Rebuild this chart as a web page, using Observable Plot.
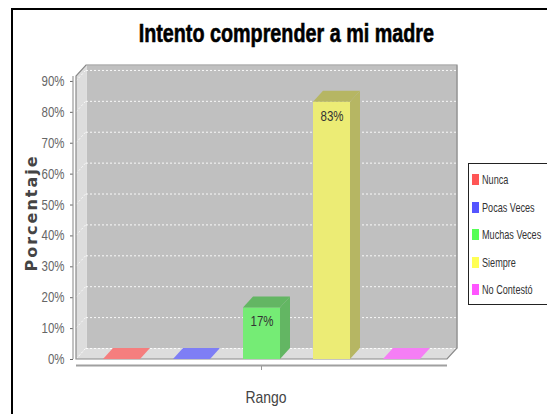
<!DOCTYPE html>
<html><head><meta charset="utf-8">
<script src="https://cdn.jsdelivr.net/npm/d3@7"></script>
<script src="https://cdn.jsdelivr.net/npm/@observablehq/plot@0.6"></script>
<style>
html,body{margin:0;padding:0;background:#fff;}
body{width:547px;height:414px;overflow:hidden;position:relative;}
#border{position:absolute;left:11px;top:8px;width:700px;height:600px;border-left:2px solid #000;border-top:2px solid #000;box-sizing:border-box;}
#chart{position:absolute;left:0;top:0;}
#title{position:absolute;left:0;top:20px;width:572px;text-align:center;line-height:26px;white-space:nowrap;}
#title span{display:inline-block;transform:scaleX(0.76);transform-origin:center;
  font-family:"Liberation Sans",Arial,sans-serif;font-weight:bold;font-size:26px;color:#000;-webkit-text-stroke:0.6px #000;}
#legend{position:absolute;left:468px;top:163px;width:120px;height:142px;border:1px solid #222;background:#fff;box-sizing:border-box;padding-top:2px;
  font-family:"Liberation Sans",Arial,sans-serif;font-size:13px;color:#333;}
.item{height:27.5px;line-height:27.5px;white-space:nowrap;display:flex;align-items:center;}
.sw{display:inline-block;width:7px;height:11px;margin-left:3px;margin-right:3px;flex:none;}
.lt{display:inline-block;transform:scaleX(0.70);transform-origin:left center;}
</style>
</head><body>
<div id="border"></div>
<div id="chart"></div>
<div id="title"><span></span></div>
<div id="legend"></div>
<script>
// ---- data ----
const title = "Intento comprender a mi madre";
const categoryLabel = "Rango";
const yLabel = "Porcentaje";
const series = ["Nunca", "Pocas Veces", "Muchas Veces", "Siempre", "No Contestó"];
const values = [0, 0, 16.7, 83.3, 0];
const colors = ["#ff5555", "#5555ff", "#55ff55", "#ffff55", "#ff55ff"];
const yTicks = [0, 10, 20, 30, 40, 50, 60, 70, 80, 90];
const yMax = 91.6;

// ---- style ----
const DX = 10, DY = -11;       // 3D depth offset (px)
const ALPHA = 0.7;             // foreground alpha
const WALL = "#c0c0c0", SIDE = "#dddddd";
const FONT = '"Liberation Sans",Arial,sans-serif';
const NARROW = 0.82;           // horizontal squeeze of chart texts

function blend(c, bg, a) {
  const f = d3.rgb(c), b = d3.rgb(bg);
  return d3.rgb(f.r * a + b.r * (1 - a), f.g * a + b.g * (1 - a), f.b * a + b.b * (1 - a)).formatHex();
}
function darker(c) { const f = d3.rgb(c); return d3.rgb(Math.floor(f.r * 0.7), Math.floor(f.g * 0.7), Math.floor(f.b * 0.7)).formatHex(); }

const data = series.map((s, i) => ({series: s, value: values[i], color: colors[i]}));

const depthMark = (draw) => (index, scales, vals, dims) => {
  const g = d3.create("svg:g");
  draw(g, scales, dims);
  return g.node();
};
const poly = (g, pts, fill, stroke, sw) =>
  g.append("path").attr("d", d3.line()(pts) + "Z").attr("fill", fill).attr("stroke", stroke || "none").attr("stroke-width", sw || 1);

const chart = Plot.plot({
  width: 547, height: 414,
  marginLeft: 76, marginRight: 100, marginTop: 76, marginBottom: 55,
  style: {fontFamily: FONT, background: "transparent"},
  x: {type: "band", domain: series, paddingInner: 0.4714, paddingOuter: 0.3857, axis: null},
  y: {domain: [0, yMax]},
  color: {type: "identity"},
  marks: [
    // back wall
    Plot.frame({fill: WALL, dx: DX, dy: DY}),
    // left wall and floor
    depthMark((g, {y}, dims) => {
      const L = dims.marginLeft, R = dims.width - dims.marginRight, y0 = y(0), yT = y(yMax);
      poly(g, [[L, y0], [L, yT], [L + DX, yT + DY], [L + DX, y0 + DY]], SIDE);
      poly(g, [[L, y0], [R, y0], [R + DX, y0 + DY], [L + DX, y0 + DY]], SIDE);
    }),
    // gridlines on back wall
    Plot.ruleY(yTicks, {stroke: "#fff", strokeDasharray: "2,2", strokeWidth: 1, strokeOpacity: 0.9, dx: DX, dy: DY}),
    // gridlines on left wall
    depthMark((g, {y}, dims) => {
      const L = dims.marginLeft;
      for (const t of yTicks)
        g.append("line").attr("x1", L).attr("y1", y(t)).attr("x2", L + DX).attr("y2", y(t) + DY)
          .attr("stroke", "#fff").attr("stroke-dasharray", "2,2").attr("stroke-opacity", 0.8);
    }),
    // outline
    depthMark((g, {y}, dims) => {
      const L = dims.marginLeft, R = dims.width - dims.marginRight, y0 = y(0), yT = y(yMax);
      poly(g, [[L, y0], [L, yT], [L + DX, yT + DY], [R + DX, yT + DY], [R + DX, y0 + DY], [R, y0]], "none", "#8a8a8a", 1.2);
    }),
    // bar front faces
    Plot.barY(data, {x: "series", y: "value", fill: d => blend(d.color, WALL, ALPHA)}),
    // bar side + top faces
    depthMark((g, {x, y}) => {
      const bw = x.bandwidth();
      for (const d of data) {
        const x0 = x(d.series), x1 = x0 + bw, y0 = y(0), yv = y(d.value);
        const c = d.value > 0 ? blend(darker(d.color), WALL, ALPHA) : blend(d.color, SIDE, ALPHA);
        if (d.value > 0) poly(g, [[x1, y0], [x1, yv], [x1 + DX, yv + DY], [x1 + DX, y0 + DY]], c);
        poly(g, [[x0, yv], [x1, yv], [x1 + DX, yv + DY], [x0 + DX, yv + DY]], c);
      }
    }),
    // value labels
    Plot.text(data.filter(d => d.value > 0), {x: "series", y: "value", text: d => Math.round(d.value) + "%", dy: 14, fontSize: 14, fill: "#333"}),
    // y axis
    Plot.axisY(yTicks, {tickFormat: d => d + "%", tickSize: 3, dx: -3, fontSize: 14, color: "#666", label: null}),
    depthMark((g, {x, y}, dims) => {
      const L = dims.marginLeft, R = dims.width - dims.marginRight, y0 = y(0);
      g.append("line").attr("x1", L - 3).attr("x2", L - 3).attr("y1", y0).attr("y2", y(yMax)).attr("stroke", "#999").attr("stroke-width", 1.2);
      g.append("line").attr("x1", L).attr("x2", R).attr("y1", y0 + 6.5).attr("y2", y0 + 6.5).attr("stroke", "#a0a0a0").attr("stroke-width", 2);
      const cx = (L + R) / 2;
      g.append("line").attr("x1", cx).attr("x2", cx).attr("y1", y0 + 7).attr("y2", y0 + 11).attr("stroke", "#999");
    }),
    // axis labels
    Plot.text([yLabel], {frameAnchor: "left", textAnchor: "middle", rotate: -90, dx: -45, dy: -5, fontSize: 16, fontWeight: "bold", fill: "#444", fontFamily: "DejaVu Sans"}),
    Plot.text([categoryLabel], {frameAnchor: "bottom", dx: 4, dy: 43, fontSize: 17, fill: "#444"})
  ]
});
document.getElementById("chart").appendChild(chart);
// narrow look for chart texts (axis ticks, values, category label)
d3.select(chart).selectAll("text").each(function () {
  if (this.textContent === yLabel) { d3.select(this).style("letter-spacing", "2px"); return; }
  const len = this.getComputedTextLength();
  if (len > 0) d3.select(this).attr("textLength", len * NARROW).attr("lengthAdjust", "spacingAndGlyphs");
});

document.querySelector("#title span").textContent = title;
const legend = d3.select("#legend");
series.forEach((s, i) => {
  const it = legend.append("div").attr("class", "item");
  it.append("span").attr("class", "sw").style("background", colors[i]);
  it.append("span").attr("class", "lt").text(s);
});
</script>
</body></html>
